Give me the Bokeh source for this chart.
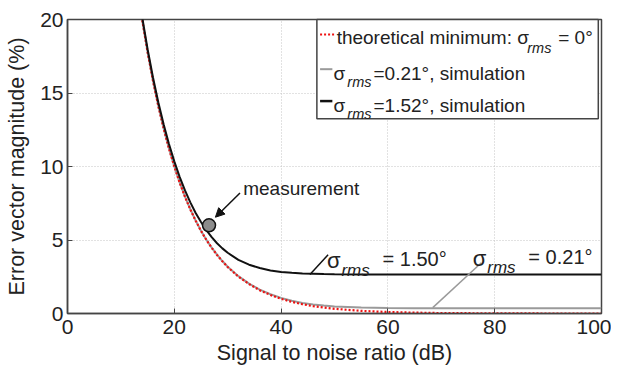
from bokeh.plotting import figure
from bokeh.models import Range1d, Label, Arrow, NormalHead, FixedTicker
from bokeh.embed import file_html
from bokeh.resources import INLINE

# ---- data ----
snr_db = [14, 15, 16, 17, 18, 19, 20, 21, 22, 23, 24, 25, 26, 27, 28, 29, 30,
          32, 34, 36, 38, 40, 42, 44, 46, 48, 50, 55, 60, 65, 70, 80, 90, 100]
evm_theory = [19.95, 17.78, 15.85, 14.13, 12.59, 11.22, 10.00, 8.91, 7.94, 7.08, 6.31,
              5.62, 5.01, 4.47, 3.98, 3.55, 3.16, 2.51, 2.00, 1.58, 1.26, 1.00, 0.79,
              0.63, 0.50, 0.40, 0.32, 0.18, 0.10, 0.06, 0.03, 0.01, 0.00, 0.00]
evm_021 = [19.95, 17.78, 15.85, 14.13, 12.60, 11.23, 10.01, 8.92, 7.95, 7.09, 6.32,
           5.63, 5.02, 4.48, 4.00, 3.57, 3.18, 2.54, 2.03, 1.62, 1.31, 1.06, 0.87,
           0.72, 0.62, 0.54, 0.48, 0.40, 0.37, 0.36, 0.36, 0.36, 0.36, 0.36]
evm_152 = [20.13, 17.98, 16.07, 14.37, 12.87, 11.53, 10.35, 9.30, 8.37, 7.56, 6.84,
           6.22, 5.67, 5.19, 4.78, 4.43, 4.13, 3.65, 3.32, 3.09, 2.93, 2.83, 2.77,
           2.72, 2.70, 2.68, 2.67, 2.66, 2.65, 2.65, 2.65, 2.65, 2.65, 2.65]
meas_snr = [26.5]
meas_evm = [6.0]
x_ticks = [0, 20, 40, 60, 80, 100]
y_ticks = [0, 5, 10, 15, 20]

FONT = "Liberation Sans"
DARK = "#222222"

p = figure(width=611, height=369, output_backend="svg", toolbar_location=None,
           x_range=Range1d(0, 100), y_range=Range1d(0, 20),
           min_border_left=67, min_border_right=10, min_border_top=19, min_border_bottom=56)
p.background_fill_color = "white"
p.border_fill_color = "white"
p.outline_line_color = "#444444"
p.outline_line_width = 1.5

for ax in (p.xaxis[0], p.yaxis[0]):
    ax.major_label_text_font = FONT
    ax.major_label_text_font_size = "21px"
    ax.major_label_text_color = DARK
    ax.axis_label_text_font = FONT
    ax.axis_label_text_font_size = "21.5px"
    ax.axis_label_text_font_style = "normal"
    ax.axis_label_text_color = DARK
    ax.axis_line_color = "#444444"
    ax.axis_line_width = 1.5
    ax.major_tick_in = 5
    ax.major_tick_out = 0
    ax.major_tick_line_color = "#444444"
    ax.minor_tick_line_color = None

p.xaxis.major_label_standoff = 6
p.xaxis.axis_label_standoff = 4
p.yaxis.major_label_standoff = 4
p.yaxis.axis_label_standoff = 8

p.xaxis.ticker = FixedTicker(ticks=x_ticks)
p.yaxis.ticker = FixedTicker(ticks=y_ticks)
p.xaxis.axis_label = "Signal to noise ratio (dB)"
p.yaxis.axis_label = "Error vector magnitude (%)"

p.xgrid.ticker = FixedTicker(ticks=x_ticks)
p.ygrid.ticker = FixedTicker(ticks=y_ticks)
for g in (p.xgrid[0], p.ygrid[0]):
    g.grid_line_color = "#c4c4c4"
    g.grid_line_dash = "1 2"
    g.grid_line_width = 1

# curves
p.line(snr_db, evm_021, line_color="#9a9a9a", line_width=2)
p.line(snr_db, evm_theory, line_color="#ee1111", line_width=2.2, line_dash="2 2")
p.line(snr_db, evm_152, line_color="#111111", line_width=2)

# measurement
p.scatter(meas_snr, meas_evm, size=13, fill_color="#8c8c8c", line_color="#111111", line_width=1.5)
p.add_layout(Label(x=32.9, y=8.5, text="measurement", text_font=FONT, text_font_size="19px",
                   text_color=DARK, text_baseline="alphabetic"))
p.add_layout(Arrow(x_start=32.3, y_start=8.2, x_end=27.7, y_end=6.55, line_width=1.5,
                   line_color="#111111",
                   end=NormalHead(size=9, fill_color="#111111", line_color="#111111")))

# curve annotations
def sigma_label(x, y, rest, big=22, small=17):
    p.add_layout(Label(x=x, y=y, text="σ", text_font=FONT, text_font_size=f"{big}px",
                       text_color=DARK, text_baseline="alphabetic"))
    p.add_layout(Label(x=x + 2.7, y=y - 0.65, text="rms", text_font=FONT,
                       text_font_size=f"{small}px", text_font_style="italic",
                       text_color=DARK, text_baseline="alphabetic"))
    p.add_layout(Label(x=x + 10.4, y=y + 0.1, text=rest, text_font=FONT,
                       text_font_size="20px", text_color=DARK, text_baseline="alphabetic"))

sigma_label(48.6, 3.6, "= 1.50°")
p.segment(x0=[45.4], y0=[2.65], x1=[48.8], y1=[4.0], line_color="#111111", line_width=1.5)
sigma_label(75.9, 3.75, "= 0.21°")
p.segment(x0=[68.4], y0=[0.40], x1=[77.5], y1=[3.45], line_color="#9a9a9a", line_width=1.5)

# legend (hand-built for subscripts)
p.quad(left=[46.7], right=[99.4], bottom=[13.25], top=[20.0],
       fill_color="white", line_color="#444444", line_width=1.5, level="overlay")
leg_rows = [18.78, 16.33, 14.15]
p.segment(x0=[47.3], y0=[18.98], x1=[50.3], y1=[18.98], line_color="#ee1111",
          line_width=2.2, line_dash="2 2", level="overlay")
p.segment(x0=[47.3], y0=[16.62], x1=[49.6], y1=[16.62], line_color="#9a9a9a",
          line_width=2, level="overlay")
p.segment(x0=[47.3], y0=[14.45], x1=[49.6], y1=[14.45], line_color="#111111",
          line_width=2.5, level="overlay")

def leg_text(x, y, t, size=19, style="normal"):
    p.add_layout(Label(x=x, y=y, text=t, text_font=FONT, text_font_size=f"{size}px",
                       text_font_style=style, text_color=DARK, text_baseline="alphabetic",
                       level="overlay"))

leg_text(50.4, leg_rows[0], "theoretical minimum: σ")
leg_text(86.1, leg_rows[0] - 0.7, "rms", 14.5, "italic")
leg_text(91.9, leg_rows[0], "= 0°")
for yb, rest in ((leg_rows[1], "=0.21°, simulation"), (leg_rows[2], "=1.52°, simulation")):
    leg_text(49.8, yb, "σ")
    leg_text(52.4, yb - 0.6, "rms", 14.5, "italic")
    leg_text(57.3, yb, rest)

open("out.html", "w").write(file_html(p, INLINE))
